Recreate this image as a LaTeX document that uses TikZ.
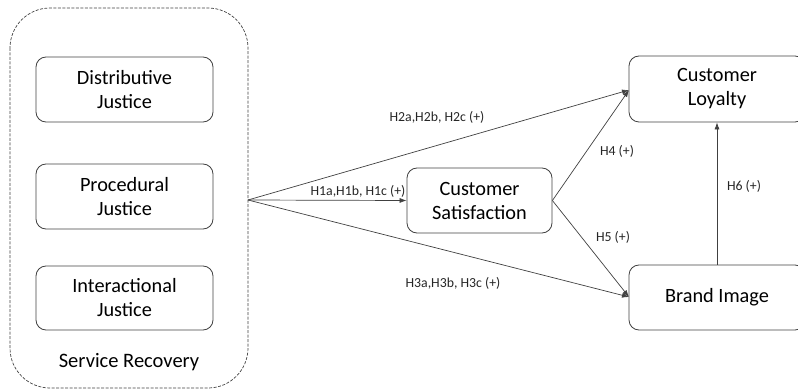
\documentclass[tikz,border=0pt]{standalone}
\usepackage{fontspec}
\setmainfont{Carlito}
\usetikzlibrary{arrows.meta}
\begin{document}
\begin{tikzpicture}[x=1pt,y=-1pt,
  box/.style={draw=black!75, line width=0.8pt, rounded corners=10pt, align=center, inner sep=0pt,
    font=\fontsize{20.3}{24}\selectfont, text=black},
  bigbox/.style={box, font=\fontsize{20.3}{24}\selectfont},
  conn/.style={draw=black!75, line width=0.7pt, -{Latex[length=7pt,width=5pt]}},
  lbl/.style={font=\fontsize{13.8}{15}\selectfont, text=black!85, inner sep=0pt}]
\clip (0,0) rectangle (798,390);
\useasboundingbox (0,0) rectangle (798,390);
\draw[draw=black!75, line width=0.7pt, dashed, dash pattern=on 3pt off 1.5pt, rounded corners=40pt] (10,8) rectangle (248,388);
\node[box, minimum width=177pt, minimum height=65pt] (dj) at (124.5,89.5) {Distributive\\Justice};
\node[box, minimum width=177pt, minimum height=65pt] (pj) at (124.5,196.5) {Procedural\\Justice};
\node[box, minimum width=177pt, minimum height=64pt] (ij) at (124.5,298) {Interactional\\Justice};
\node[font=\fontsize{20.5}{22}\selectfont] (sr) at (129,362) {Service Recovery};
\coordinate (src) at (248,200);
\node[bigbox, minimum width=145pt, minimum height=65pt] (cs) at (479.5,200.5) {Customer\\Satisfaction};
\node[bigbox, minimum width=176pt, minimum height=66pt] (cl) at (717,89) {Customer\\Loyalty};
\node[bigbox, minimum width=176pt, minimum height=65pt] (bi) at (717,297.5) {Brand Image};
\coordinate (clin) at (629,90);
\coordinate (biin) at (629,297);
\draw[conn] (src) -- (cs.west);
\draw[conn] (src) -- (clin);
\draw[conn] (src) -- (biin);
\draw[conn] (cs.east) -- (clin);
\draw[conn] (cs.east) -- (biin);
\draw[conn] (bi.north) -- (cl.south);
\node[lbl] (l1) at (358,191) {H1a,H1b, H1c (+)};
\node[lbl] (l2) at (437,117) {H2a,H2b, H2c (+)};
\node[lbl] (l3) at (453,283) {H3a,H3b, H3c (+)};
\node[lbl] (l4) at (617,151) {H4 (+)};
\node[lbl] (l5) at (613,237) {H5 (+)};
\node[lbl] (l6) at (744,186) {H6 (+)};
\end{tikzpicture}
\end{document}
